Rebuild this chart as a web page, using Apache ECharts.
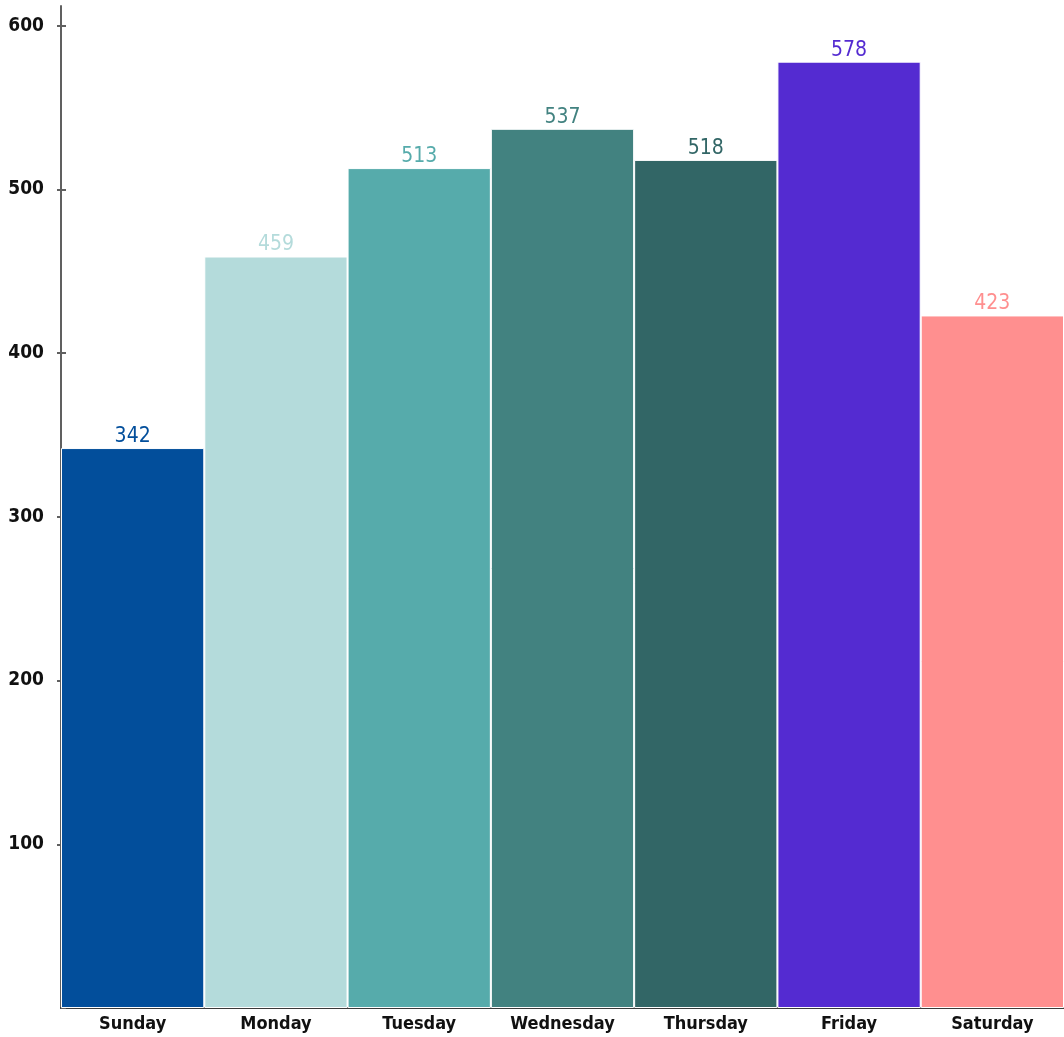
<!DOCTYPE html>
<html>
<head>
<meta charset="utf-8">
<script src="https://cdn.jsdelivr.net/npm/echarts@6/dist/echarts.min.js"></script>
<style>
  html, body { margin: 0; padding: 0; background: #fff; }
  #chart { width: 1064px; height: 1037px; }
</style>
</head>
<body>
<div id="chart"></div>
<script>
// Visits per weekday
const days = ['Sunday', 'Monday', 'Tuesday', 'Wednesday', 'Thursday', 'Friday', 'Saturday'];
const visits = [342, 459, 513, 537, 518, 578, 423];
const dayColors = ['#024E9B', '#B4DBDB', '#56ABAB', '#428280', '#326666', '#542BD1', '#FF8F8F'];
const yTicks = [100, 200, 300, 400, 500, 600];

const FONT = '"DejaVu Sans Condensed", "Liberation Sans Narrow", sans-serif';

const Y_MAX = 612;
const TICK_TOP = 600;
const GRID_TOP = 6;
const GRID_BOTTOM = 29;
const CHART_H = 1037;
// second grid ends exactly where the value 600 sits in the main grid
const plotH = CHART_H - GRID_TOP - GRID_BOTTOM;
const tickGridTop = GRID_TOP + plotH * (Y_MAX - TICK_TOP) / Y_MAX;

const AXIS_GREY = '#606060';

const chart = echarts.init(document.getElementById('chart'), null, { renderer: 'canvas' });

chart.setOption({
  animation: false,
  grid: [
    { left: 61, right: 0, top: GRID_TOP, bottom: GRID_BOTTOM, containLabel: false, outerBoundsMode: 'none' },
    { left: 61, right: 0, top: tickGridTop, bottom: GRID_BOTTOM, containLabel: false, outerBoundsMode: 'none' }
  ],
  xAxis: [
    {
      type: 'category',
      gridIndex: 0,
      data: days,
      axisLine: { lineStyle: { color: '#3a3a3a', width: 2 } },
      axisTick: { show: false },
      axisLabel: {
        interval: 0,
        color: '#111',
        fontFamily: FONT,
        fontWeight: 'bold',
        fontSize: 18,
        margin: 7
      }
    },
    { type: 'category', gridIndex: 1, data: days, show: false }
  ],
  yAxis: [
    {
      type: 'value',
      gridIndex: 0,
      position: 'left',
      min: 0,
      max: Y_MAX,
      interval: 100,
      splitLine: { show: false },
      axisLine: { show: true, lineStyle: { color: AXIS_GREY, width: 2 } },
      axisTick: { show: true, length: 4, customValues: yTicks, lineStyle: { color: AXIS_GREY, width: 2 } },
      axisLabel: {
        customValues: yTicks,
        color: '#111',
        fontFamily: FONT,
        fontWeight: 'bold',
        fontSize: 19,
        margin: 17
      }
    },
    // inner half of the crossing tick marks; its line lies on top of the main axis line
    {
      type: 'value',
      gridIndex: 1,
      position: 'left',
      min: 0,
      max: TICK_TOP,
      interval: 100,
      splitLine: { show: false },
      axisLine: { show: true, lineStyle: { color: AXIS_GREY, width: 2 } },
      axisTick: { show: true, inside: true, length: 5, lineStyle: { color: AXIS_GREY, width: 2 } },
      axisLabel: { show: true, inside: true, formatter: () => '' }
    }
  ],
  series: [{
    type: 'bar',
    xAxisIndex: 0,
    yAxisIndex: 0,
    barWidth: '100%',
    data: visits.map((v, i) => ({
      value: v,
      itemStyle: { color: dayColors[i] },
      label: { color: dayColors[i] }
    })),
    itemStyle: { borderColor: '#ffffff', borderWidth: 1 },
    label: {
      show: true,
      position: 'top',
      distance: 1,
      fontFamily: FONT,
      fontWeight: 500,
      fontSize: 21
    }
  }]
});
</script>
</body>
</html>
